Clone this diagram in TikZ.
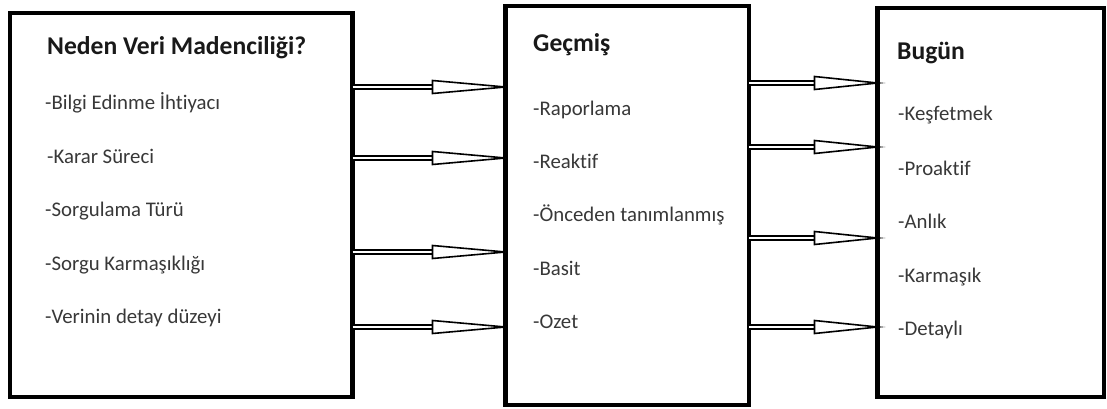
\documentclass[tikz,border=0pt]{standalone}
\usepackage{fontspec}
\setmainfont{Carlito}[Ligatures={NoCommon}]
\usetikzlibrary{calc}
\begin{document}
\begin{tikzpicture}[x=1pt,y=-1pt,
  panel/.style={draw=black, line width=4.5pt, fill=white, inner sep=0pt, outer sep=0pt, anchor=north west},
  heading/.style={anchor=base west, inner sep=0pt, font=\bfseries\fontsize{25.6}{29}\selectfont, text=black!90},
  item/.style={anchor=base west, inner sep=0pt, font=\fontsize{20.8}{25}\selectfont, text=black!78},
  shaft/.style={draw=black, line width=2pt, double=white, double distance=2.5pt},
  head/.style={draw=black, line width=1.6pt, fill=white, line join=miter}]
\useasboundingbox (0,0) rectangle (1107,409);

% three panels
\node[panel, minimum width=342.5pt, minimum height=384pt] (why) at (10,13) {};
\node[panel, minimum width=243.5pt, minimum height=399pt] (past) at (505.5,6) {};
\node[panel, minimum width=226.5pt, minimum height=389pt] (now) at (877.5,8) {};

% left panel text
\node[heading] (whyT) at (47,55) {Neden Veri Madenciliği?};
\node[item] (why1) at (45,110) {-Bilgi Edinme İhtiyacı};
\node[item] (why2) at (47,163) {-Karar Süreci};
\node[item] (why3) at (45,216) {-Sorgulama Türü};
\node[item] (why4) at (45,270) {-Sorgu Karmaşıklığı};
\node[item] (why5) at (45,323) {-Verinin detay düzeyi};

% middle panel text
\node[heading] (pastT) at (533,52) {Geçmiş};
\node[item] (past1) at (533,115) {-Raporlama};
\node[item] (past2) at (533,168) {-Reaktif};
\node[item] (past3) at (533,221) {-Önceden tanımlanmış};
\node[item] (past4) at (533,275) {-Basit};
\node[item] (past5) at (533,328) {-Ozet};

% right panel text
\node[heading] (nowT) at (897,60) {Bugün};
\node[item] (now1) at (898,121) {-Keşfetmek};
\node[item] (now2) at (898,175) {-Proaktif};
\node[item] (now3) at (898,228) {-Anlık};
\node[item] (now4) at (898,282) {-Karmaşık};
\node[item] (now5) at (898,335) {-Detaylı};

% double-line connectors with long open heads
\foreach \yy/\n in {87/1,158/2,252/3,327/4}{
  \coordinate (ls\n) at (why.east |- 0,\yy);
  \coordinate (lt\n) at (past.west |- 0,\yy);
  \draw[shaft] (ls\n) -- ($(lt\n)+(-73,0)$);
  \draw[head] ($(lt\n)+(-73,-6.5)$) -- (lt\n) -- ($(lt\n)+(-73,6.5)$) -- cycle;
}
\foreach \yy/\n in {83/1,147/2,238/3,327/4}{
  \coordinate (rs\n) at (past.east |- 0,\yy);
  \coordinate (rt\n) at (now.west |- 0,\yy);
  \draw[shaft] (rs\n) -- ($(rt\n)+(-63,0)$);
  \draw[head] ($(rt\n)+(-63,-6.5)$) -- (rt\n) -- ($(rt\n)+(-63,6.5)$) -- cycle;
}
\end{tikzpicture}
\end{document}
